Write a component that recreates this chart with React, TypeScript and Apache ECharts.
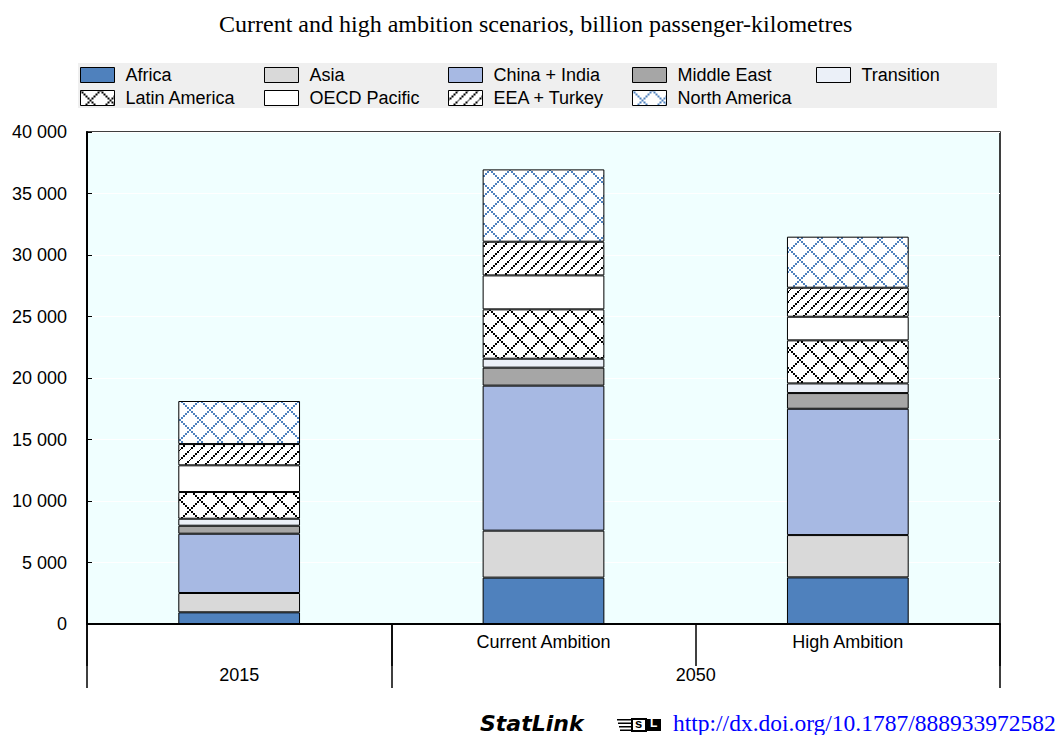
import React, { useEffect, useRef } from 'react';
import * as echarts from 'echarts';

const titleText = 'Current and high ambition scenarios, billion passenger-kilometres';
const categories = ['2015', 'Current Ambition', 'High Ambition'];
const groupLabels = ['2015', '2050'];
const groupSpans = [1, 2];

const regions = ['Africa', 'Asia', 'China + India', 'Middle East', 'Transition', 'Latin America', 'OECD Pacific', 'EEA + Turkey', 'North America'];
const africa = [950, 3770, 3790];
const asia = [1570, 3820, 3440];
const chinaIndia = [4820, 11790, 10270];
const middleEast = [650, 1460, 1275];
const transition = [570, 730, 785];
const latinAmerica = [2170, 4010, 3500];
const oecdPacific = [2170, 2760, 1920];
const eeaTurkey = [1730, 2740, 2360];
const northAmerica = [3500, 5880, 4150];
const seriesValues = [africa, asia, chinaIndia, middleEast, transition, latinAmerica, oecdPacific, eeaTurkey, northAmerica];

const yMin = 0;
const yMax = 40000;
const yStep = 5000;

const statLinkText = 'StatLink';
const urlText = 'http://dx.doi.org/10.1787/888933972582';

const SANS = '"Liberation Sans", Arial, sans-serif';
const SERIF = '"Liberation Serif", "Times New Roman", serif';

function makeTile(size: number, color: string, draw: (ctx: CanvasRenderingContext2D) => void) {
  const c = document.createElement('canvas');
  c.width = size;
  c.height = size;
  const ctx = c.getContext('2d')!;
  ctx.fillStyle = '#ffffff';
  ctx.fillRect(0, 0, size, size);
  ctx.fillStyle = color;
  draw(ctx);
  return c;
}

function latticeTile(color: string) {
  const P = 20;
  return makeTile(P, color, (ctx) => {
    for (let k = 0; k <= 10; k++) {
      const c = 2 * k;
      ctx.fillRect(c - 1, c - 1, 2, 2);
      ctx.fillRect(P - c - 1, c - 1, 2, 2);
    }
  });
}

function hatchTile(color: string) {
  const P = 10;
  return makeTile(P, color, (ctx) => {
    for (let k = 0; k <= 5; k++) {
      const c = 2 * k;
      ctx.fillRect(c - 1, P - c - 1, 2, 2);
    }
  });
}

function thousands(v: number) {
  return String(v).replace(/\B(?=(\d{3})+(?!\d))/g, ' ');
}

export default function App() {
  const ref = useRef<HTMLDivElement>(null);

  useEffect(() => {
    if (!ref.current) return;
    const chart = echarts.init(ref.current, undefined, { renderer: 'svg' });

    const fills: any[] = [
      '#4F81BD',
      '#D9D9D9',
      '#A7B9E3',
      '#A6A6A6',
      '#EBF0F8',
      { image: latticeTile('#000000'), repeat: 'repeat' },
      '#FFFFFF',
      { image: hatchTile('#000000'), repeat: 'repeat' },
      { image: latticeTile('#4F81BD'), repeat: 'repeat' },
    ];

    const series = regions.map((name, i) => ({
      name,
      type: 'bar',
      stack: 'total',
      barWidth: '40%',
      xAxisIndex: 0,
      yAxisIndex: 0,
      data: seriesValues[i],
      itemStyle: { color: fills[i], borderColor: '#000', borderWidth: 1 },
      emphasis: { disabled: true },
    }));

    const legends = regions.map((name, i) => {
      const col = i < 5 ? i : i - 5;
      const row = i < 5 ? 0 : 1;
      return {
        data: [name],
        left: 80 + col * 184,
        top: 66 + row * 23,
        padding: 0,
        itemWidth: 34,
        itemHeight: 15,
        icon: 'rect',
        selectedMode: false,
        itemStyle: { borderColor: '#000', borderWidth: 1 },
        textStyle: { fontFamily: SANS, fontSize: 18, color: '#000', padding: [0, 0, 0, 6] },
      };
    });

    const bounds: number[] = [0];
    groupSpans.forEach((s) => bounds.push(bounds[bounds.length - 1] + s));
    const centers = groupSpans.map((s, i) => bounds[i] + s / 2);

    chart.setOption({
      animation: false,
      title: {
        text: titleText,
        left: 214,
        top: 7,
        textStyle: { fontFamily: SERIF, fontSize: 24, fontWeight: 'normal', color: '#000' },
      },
      legend: legends,
      grid: {
        left: 87,
        right: 63,
        top: 132,
        bottom: 111,
        show: true,
        backgroundColor: '#F0FFFF',
        borderColor: '#000',
        borderWidth: 1.5,
      },
      xAxis: [
        {
          type: 'category',
          data: categories,
          position: 'bottom',
          axisLine: { lineStyle: { color: '#000', width: 2 } },
          axisTick: { show: true, length: 42, lineStyle: { color: '#000', width: 1.5 } },
          axisLabel: {
            formatter: (v: string, i: number) => (i === 0 ? '' : v),
            margin: 9,
            fontFamily: SANS,
            fontSize: 18,
            color: '#000',
          },
          z: 10,
        },
        {
          type: 'value',
          min: 0,
          max: bounds[bounds.length - 1],
          position: 'bottom',
          axisLine: { show: false },
          splitLine: { show: false },
          axisTick: { show: true, customValues: bounds, length: 64, lineStyle: { color: '#000', width: 1.5 } },
          axisLabel: {
            customValues: centers,
            formatter: (v: number) => {
              const idx = centers.indexOf(v);
              return idx >= 0 ? groupLabels[idx] : '';
            },
            margin: 42,
            fontFamily: SANS,
            fontSize: 18,
            color: '#000',
          },
        },
      ],
      yAxis: {
        type: 'value',
        min: yMin,
        max: yMax,
        interval: yStep,
        axisLine: { show: true, lineStyle: { color: '#000', width: 2 } },
        axisTick: { show: true, inside: true, length: 5, lineStyle: { color: '#000', width: 1 } },
        splitLine: { show: true, lineStyle: { color: '#FFFFFF', width: 1 } },
        axisLabel: {
          formatter: (v: number) => thousands(v),
          margin: 20,
          fontFamily: SANS,
          fontSize: 18,
          color: '#000',
        },
      },
      graphic: [
        {
          type: 'rect',
          z: -1,
          shape: { x: 78, y: 63, width: 919, height: 45 },
          style: { fill: '#EFEFEF' },
          silent: true,
        },
        {
          type: 'text',
          x: 480,
          y: 712,
          style: {
            text: statLinkText,
            fontFamily: '"DejaVu Sans", Verdana, sans-serif',
            fontWeight: 'bold',
            fontStyle: 'italic',
            fontSize: 22,
            fill: '#000',
          },
        },
        {
          type: 'group',
          x: 617,
          y: 719,
          children: [
            { type: 'rect', shape: { x: 0, y: 0, width: 14, height: 1.5 }, style: { fill: '#000' } },
            { type: 'rect', shape: { x: 1, y: 3.5, width: 13, height: 1.5 }, style: { fill: '#000' } },
            { type: 'rect', shape: { x: 2, y: 7, width: 12, height: 1.5 }, style: { fill: '#000' } },
            { type: 'rect', shape: { x: 3, y: 10.5, width: 11, height: 1.5 }, style: { fill: '#000' } },
            { type: 'rect', shape: { x: 15, y: 0, width: 14, height: 12 }, style: { fill: '#fff', stroke: '#000', lineWidth: 2 } },
            { type: 'text', x: 18, y: -2, style: { text: 's', fontFamily: SANS, fontWeight: 'bold', fontSize: 13, fill: '#000' } },
            { type: 'rect', shape: { x: 30, y: 0, width: 14, height: 12 }, style: { fill: '#000' } },
            { type: 'text', x: 33, y: -2, style: { text: 'L', fontFamily: SANS, fontWeight: 'bold', fontSize: 12, fill: '#fff' } },
          ],
        },
        {
          type: 'text',
          x: 673,
          y: 711,
          style: {
            text: urlText,
            fontFamily: SERIF,
            fontSize: 23.5,
            fill: '#0000FF',
          },
        },
      ],
      series,
    });

    return () => {
      chart.dispose();
    };
  }, []);

  return (
    <div
      ref={ref}
      style={{ position: 'absolute', left: 0, top: 0, width: 1063, height: 735 }}
    />
  );
}
